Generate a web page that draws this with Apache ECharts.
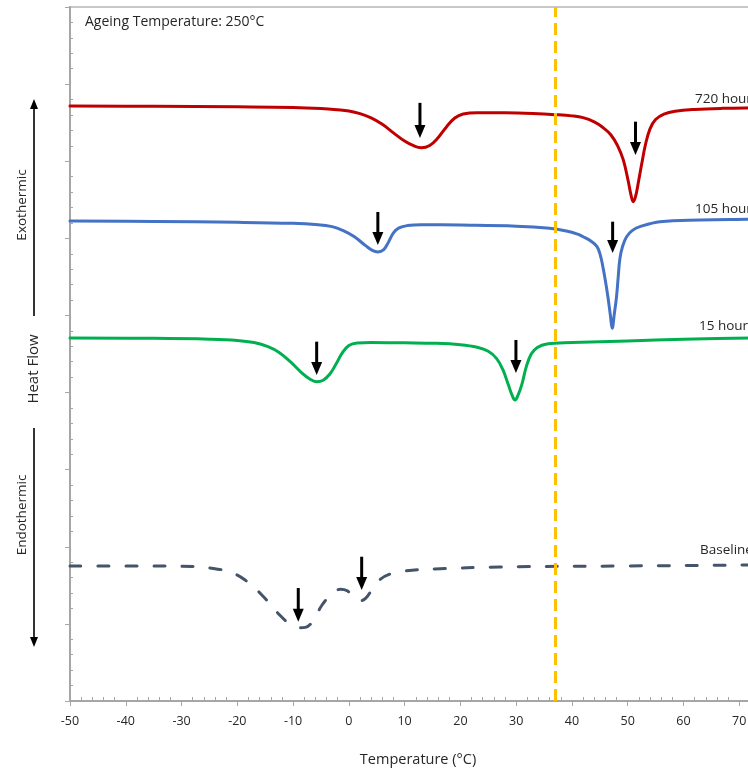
<!DOCTYPE html>
<html>
<head>
<meta charset="utf-8">
<script src="https://cdn.jsdelivr.net/npm/echarts@6/dist/echarts.min.js"></script>
<style>
  html, body { margin: 0; padding: 0; overflow: hidden; background: #fff; }
  #chart { width: 840px; height: 772px; }
</style>
</head>
<body>
<div id="chart"></div>
<script>
// DSC traces, [temperature °C, heat flow (offset, arbitrary units)]
const hours720 = [
  [-50, 7.716], [-35, 7.712], [-20, 7.705], [-10, 7.697], [-5, 7.684], [-2, 7.668],
  [0, 7.652], [2, 7.618], [4, 7.562], [6, 7.478], [8, 7.368], [10, 7.262], [11.5, 7.205],
  [13, 7.175], [14.5, 7.205], [16, 7.305], [17.5, 7.445], [19, 7.560], [20.5, 7.612],
  [23, 7.630], [28, 7.628], [33, 7.618], [37, 7.604], [40, 7.588], [42, 7.565], [44, 7.510],
  [45.5, 7.440], [47, 7.340], [48.2, 7.200], [49.2, 7.020], [50.1, 6.740], [50.6, 6.560],
  [51, 6.475], [51.4, 6.540], [51.9, 6.720], [52.5, 6.960], [53.2, 7.220], [54, 7.420],
  [55, 7.540], [56.5, 7.610], [58.5, 7.648], [62, 7.672], [67, 7.686], [73, 7.692], [80, 7.697]
];
const hours105 = [
  [-50, 6.225], [-35, 6.218], [-20, 6.208], [-10, 6.195], [-6, 6.180], [-3, 6.152],
  [-1, 6.100], [1, 6.020], [3, 5.905], [4.3, 5.840], [5.2, 5.823], [6.2, 5.850], [7.1, 5.950],
  [8, 6.070], [9, 6.135], [10.5, 6.165], [13, 6.176], [20, 6.172], [30, 6.158], [36, 6.130],
  [39, 6.095], [41, 6.055], [42, 6.021], [43.5, 5.960], [44.5, 5.892], [45.1, 5.780],
  [45.55, 5.632], [46, 5.450], [46.45, 5.243], [46.9, 5.000], [47.22, 4.833], [47.6, 5.020],
  [48, 5.243], [48.3, 5.500], [48.6, 5.736], [49.1, 5.900], [49.8, 6.021], [50.8, 6.100],
  [52.2, 6.151], [55.8, 6.216], [63, 6.238], [71.5, 6.247], [80, 6.255]
];
const hours15 = [
  [-50, 4.707], [-35, 4.703], [-25, 4.692], [-20, 4.676], [-17, 4.648], [-14.5, 4.595],
  [-12.5, 4.520], [-10.5, 4.400], [-8.5, 4.260], [-7, 4.175], [-5.8, 4.141], [-4.6, 4.160],
  [-3.4, 4.240], [-2.3, 4.370], [-1.2, 4.510], [0, 4.610], [1.5, 4.642], [4, 4.648],
  [10, 4.645], [15.7, 4.639], [20, 4.620], [23, 4.587], [25, 4.535], [26.5, 4.440],
  [27.6, 4.300], [28.6, 4.100], [29.3, 3.960], [29.8, 3.903], [30.3, 3.960], [31, 4.100],
  [31.8, 4.330], [32.7, 4.500], [33.8, 4.585], [35.5, 4.630], [40, 4.648], [50, 4.670],
  [60, 4.690], [72, 4.708], [80, 4.715]
];
const baseline = [
  [-50, 1.751], [-35, 1.751], [-28, 1.745], [-24, 1.715], [-21.3, 1.673], [-18.6, 1.569],
  [-15.6, 1.375], [-12.4, 1.115], [-10.5, 0.995], [-9, 0.950], [-7.8, 0.955], [-6.5, 1.030],
  [-4.8, 1.245], [-3, 1.390], [-1.5, 1.450], [-0.3, 1.430], [1, 1.340], [2, 1.300],
  [3, 1.330], [4.2, 1.450], [5.5, 1.570], [7.4, 1.647], [10, 1.686], [15.4, 1.712],
  [27, 1.738], [50, 1.751], [72, 1.764], [80, 1.770]
];
// peak markers: [temperature, arrow tail, arrow tip]
const peakArrows = [
  [12.75, 7.757, 7.301], [51.4, 7.513, 7.081],
  [5.2, 6.342, 5.914], [47.3, 6.216, 5.810],
  [-5.77, 4.660, 4.228], [29.96, 4.682, 4.254],
  [-9.07, 1.465, 1.028], [2.3, 1.871, 1.440]
];
const seriesNames = ['720 hours', '105 hours', '15 hours', 'Baseline'];
const ageingTemp = 37; // dashed reference line, °C
const xMin = -50, xMax = 80, xStep = 10;
const yMin = 0, yMax = 9, yStep = 1;

const FONT = '"Open Sans", sans-serif';
const chart = echarts.init(document.getElementById('chart'), null, { renderer: 'canvas' });

function traceSeries(name, data, color, dashed) {
  return {
    name, type: 'line', data, symbol: 'none', smooth: 0.4,
    lineStyle: { color, width: 3, type: dashed ? [11, 17] : 'solid', cap: 'round', join: 'round' },
    z: 3, silent: true
  };
}

const series = [
  traceSeries(seriesNames[0], hours720, '#C00000'),
  traceSeries(seriesNames[1], hours105, '#4472C4'),
  traceSeries(seriesNames[2], hours15, '#00B050'),
  traceSeries(seriesNames[3], baseline, '#44546A', true),
  {
    type: 'custom', data: peakArrows, z: 6, silent: true,
    encode: { x: 0, y: [1, 2] },
    renderItem(params, api) {
      const tail = api.coord([api.value(0), api.value(1)]);
      const tip = api.coord([api.value(0), api.value(2)]);
      const headH = 13, headW = 5.5;
      return {
        type: 'group',
        children: [
          { type: 'line', shape: { x1: tail[0], y1: tail[1], x2: tip[0], y2: tip[1] - headH + 2 },
            style: { stroke: '#000', lineWidth: 3 } },
          { type: 'polygon', shape: { points: [[tip[0] - headW, tip[1] - headH], [tip[0] + headW, tip[1] - headH], [tip[0], tip[1]]] },
            style: { fill: '#000' } }
        ]
      };
    }
  },
  {
    type: 'line', data: [], silent: true,
    markLine: {
      silent: true, symbol: ['none', 'none'], label: { show: false },
      lineStyle: { color: '#FFC000', width: 3, type: [12, 6] },
      data: [{ xAxis: ageingTemp }]
    }
  }
];

// annotation text helpers
function txt(x, y, text, size, align) {
  return {
    type: 'text', x, y,
    style: { text, font: size + 'px ' + FONT, fill: '#262626', textAlign: align || 'left', textVerticalAlign: 'middle' }
  };
}
function vtxt(x, y, text, size) {
  return {
    type: 'text', x, y, rotation: Math.PI / 2,
    style: { text, font: size + 'px ' + FONT, fill: '#262626', textAlign: 'center', textVerticalAlign: 'middle' }
  };
}
function vArrow(x, y1, y2) {
  const dir = y2 > y1 ? 1 : -1;
  return {
    type: 'group', children: [
      { type: 'line', shape: { x1: x, y1, x2: x, y2: y2 - dir * 8 }, style: { stroke: '#000', lineWidth: 1.6 } },
      { type: 'polygon', shape: { points: [[x - 4, y2 - dir * 10], [x + 4, y2 - dir * 10], [x, y2]] }, style: { fill: '#000' } }
    ]
  };
}

chart.setOption({
  animation: false,
  grid: {
    left: 70, right: 45, top: 7, bottom: 71, outerBoundsMode: 'none', containLabel: false,
    show: true, borderColor: '#c8c8c8', borderWidth: 2
  },
  xAxis: {
    type: 'value', min: xMin, max: xMax, interval: xStep,
    axisLine: { show: true, onZero: false, lineStyle: { color: '#a6a6a6', width: 2 } },
    axisTick: { show: true, length: 5, lineStyle: { color: '#a6a6a6', width: 1 } },
    minorTick: { show: true, splitNumber: 5, length: -4, lineStyle: { color: '#a6a6a6', width: 1 } },
    axisLabel: { color: '#262626', fontFamily: FONT, fontSize: 12.5, margin: 14 },
    splitLine: { show: false }
  },
  yAxis: {
    type: 'value', min: yMin, max: yMax, interval: yStep,
    axisLine: { show: true, onZero: false, lineStyle: { color: '#a6a6a6', width: 2 } },
    axisTick: { show: true, length: 5, lineStyle: { color: '#a6a6a6', width: 1 } },
    minorTick: { show: true, splitNumber: 5, length: -3, lineStyle: { color: '#a6a6a6', width: 1 } },
    axisLabel: { show: false },
    splitLine: { show: false }
  },
  series,
  graphic: [
    txt(85, 22, 'Ageing Temperature: 250°C', 14),
    txt(695, 99, seriesNames[0], 13.5),
    txt(695, 209, seriesNames[1], 13.5),
    txt(699, 326, seriesNames[2], 13.5),
    txt(700, 550, seriesNames[3], 13.5),
    txt(418, 760, 'Temperature (°C)', 14.5, 'center'),
    vtxt(34, 369, 'Heat Flow', 15),
    vtxt(22, 205, 'Exothermic', 13.5),
    vtxt(22, 515, 'Endothermic', 13.5),
    vArrow(34, 316, 99),
    vArrow(34, 428, 647)
  ]
});
</script>
</body>
</html>
